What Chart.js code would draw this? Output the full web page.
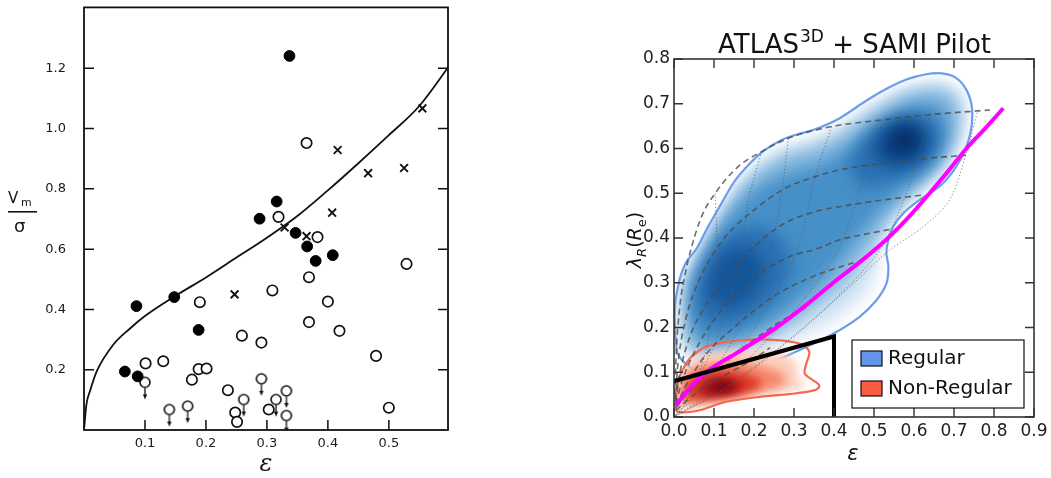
<!DOCTYPE html>
<html>
<head>
<meta charset="utf-8">
<script src="https://cdn.jsdelivr.net/npm/chart.js@4.4.0/dist/chart.umd.min.js"></script>
<style>
  body { margin: 0; background: #fff; width: 1051px; height: 478px; overflow: hidden; position: relative; }
  canvas { position: absolute; top: 0; }
  #rotChart { left: 0; }
  #lambdaChart { left: 600px; }
</style>
</head>
<body>
<canvas id="rotChart" width="460" height="478"></canvas>
<canvas id="lambdaChart" width="451" height="478"></canvas>
<script>
// ---------- left panel: V_m / sigma against ellipticity ----------
const solidPts = [[0.337,1.241],[0.086,0.411],[0.148,0.441],[0.188,0.332],[0.067,0.194],[0.088,0.178],
                  [0.288,0.701],[0.316,0.758],[0.347,0.654],[0.366,0.609],[0.380,0.561],[0.408,0.580]]
const crossPts = [[0.555,1.067],[0.416,0.929],[0.466,0.852],[0.525,0.869],[0.407,0.721],[0.329,0.672],
                  [0.365,0.643],[0.247,0.450]]
const openPts = [[0.365,0.952],[0.319,0.707],[0.383,0.640],[0.529,0.551],[0.369,0.507],[0.309,0.463],
                 [0.190,0.424],[0.400,0.426],[0.369,0.358],[0.419,0.329],[0.259,0.313],[0.291,0.290],
                 [0.479,0.246],[0.101,0.221],[0.130,0.228],[0.188,0.202],[0.201,0.204],[0.177,0.167],
                 [0.236,0.132],[0.248,0.058],[0.251,0.027],[0.303,0.068],[0.500,0.074]]
// upper limits (circle with arrow)
const limitPts = [[0.100,0.158],[0.140,0.068],[0.170,0.079],[0.291,0.170],[0.262,0.101],[0.315,0.101],
                  [0.332,0.130],[0.332,0.048]]
const curveEps = [0, 0.004, 0.01, 0.021, 0.048, 0.075, 0.1, 0.15, 0.2, 0.25, 0.3, 0.35, 0.4, 0.45, 0.5, 0.55, 0.598]
const curveV   = [0, 0.085, 0.13, 0.195, 0.283, 0.336, 0.378, 0.445, 0.506, 0.572, 0.638, 0.71, 0.795, 0.885, 0.978, 1.075, 1.205]
const leftXTicks = [0.1, 0.2, 0.3, 0.4, 0.5]
const leftYTicks = [0.2, 0.4, 0.6, 0.8, 1.0, 1.2]

// ---------- right panel: lambda_R against ellipticity ----------
const epsTicks = [0, 0.1, 0.2, 0.3, 0.4, 0.5, 0.6, 0.7, 0.8, 0.9]
const lamTicks = [0, 0.1, 0.2, 0.3, 0.4, 0.5, 0.6, 0.7, 0.8]

const blueEdge = [[0.006,0.157],[0.002,0.24],[0.012,0.30],[0.03,0.345],[0.057,0.377],[0.085,0.425],[0.119,0.478],
  [0.15,0.525],[0.186,0.563],[0.225,0.595],[0.269,0.619],[0.31,0.632],[0.353,0.643],[0.411,0.666],[0.469,0.700],
  [0.52,0.728],[0.581,0.754],[0.63,0.766],[0.67,0.768],[0.705,0.758],[0.731,0.731],[0.745,0.69],[0.741,0.634],
  [0.716,0.575],[0.67,0.52],[0.614,0.485],[0.573,0.455],[0.548,0.425],[0.535,0.392],[0.531,0.365],[0.536,0.336],
  [0.531,0.298],[0.506,0.261],[0.464,0.224],[0.398,0.186],[0.331,0.157],[0.264,0.130],[0.181,0.104],[0.114,0.093],
  [0.073,0.097],[0.039,0.112],[0.014,0.134]]
// density levels inside the regular contour, lightest first
const blueLevel1 = [[0.02,0.165],[0.016,0.24],[0.025,0.29],[0.045,0.335],[0.07,0.37],[0.1,0.42],[0.13,0.465],[0.16,0.51],
  [0.195,0.545],[0.235,0.575],[0.275,0.598],[0.315,0.612],[0.36,0.623],[0.415,0.646],[0.47,0.68],[0.525,0.708],
  [0.58,0.732],[0.63,0.745],[0.67,0.747],[0.7,0.737],[0.72,0.712],[0.728,0.675],[0.723,0.63],[0.7,0.58],[0.66,0.535],
  [0.605,0.5],[0.56,0.465],[0.53,0.43],[0.515,0.39],[0.51,0.34],[0.49,0.29],[0.45,0.25],[0.39,0.21],[0.32,0.18],
  [0.25,0.155],[0.17,0.13],[0.11,0.12],[0.07,0.125],[0.04,0.14]]
const blueLevel2 = [[0.03,0.19],[0.028,0.29],[0.055,0.35],[0.095,0.42],[0.145,0.49],[0.2,0.545],[0.27,0.585],[0.35,0.605],
  [0.42,0.635],[0.5,0.685],[0.58,0.725],[0.65,0.735],[0.705,0.715],[0.715,0.66],[0.695,0.6],[0.645,0.54],[0.575,0.48],
  [0.525,0.42],[0.48,0.36],[0.43,0.3],[0.36,0.25],[0.28,0.2],[0.2,0.165],[0.12,0.14],[0.07,0.14],[0.04,0.155]]
const blueLevel3 = [[0.04,0.21],[0.045,0.3],[0.085,0.375],[0.135,0.445],[0.2,0.505],[0.28,0.545],[0.36,0.565],[0.44,0.605],
  [0.52,0.655],[0.6,0.695],[0.665,0.695],[0.685,0.64],[0.655,0.57],[0.585,0.515],[0.51,0.455],[0.45,0.39],[0.39,0.325],
  [0.31,0.255],[0.21,0.195],[0.12,0.165],[0.065,0.17]]
const blueLevel4a = [[0.055,0.235],[0.065,0.31],[0.1,0.375],[0.15,0.415],[0.22,0.425],[0.28,0.385],[0.29,0.32],[0.245,0.26],
  [0.17,0.215],[0.1,0.205]]
const blueLevel4b = [[0.44,0.56],[0.48,0.63],[0.55,0.67],[0.62,0.675],[0.665,0.635],[0.635,0.57],[0.555,0.53],[0.48,0.515]]
const blueLevel5a = [[0.085,0.265],[0.095,0.33],[0.135,0.375],[0.19,0.375],[0.225,0.335],[0.205,0.28],[0.15,0.245]]
const blueLevel5b = [[0.5,0.59],[0.53,0.645],[0.59,0.662],[0.635,0.632],[0.615,0.578],[0.55,0.56]]
const blueLevel6 = [[0.535,0.6],[0.55,0.638],[0.59,0.648],[0.615,0.617],[0.588,0.59]]

const redEdge = [[0.004,0.022],[0.006,0.052],[0.014,0.09],[0.031,0.12],[0.048,0.138],[0.089,0.160],[0.173,0.172],
  [0.256,0.172],[0.314,0.164],[0.338,0.146],[0.331,0.120],[0.327,0.097],[0.348,0.082],[0.363,0.071],[0.352,0.060],
  [0.298,0.052],[0.214,0.045],[0.131,0.034],[0.064,0.015],[0.014,0.011]]
const redLevel1 = [[0.012,0.025],[0.015,0.07],[0.03,0.11],[0.07,0.14],[0.15,0.15],[0.23,0.148],[0.29,0.135],[0.31,0.11],
  [0.31,0.085],[0.33,0.07],[0.3,0.06],[0.22,0.05],[0.12,0.035],[0.05,0.022]]
const redLevel2 = [[0.018,0.032],[0.022,0.08],[0.055,0.112],[0.13,0.122],[0.205,0.117],[0.265,0.1],[0.275,0.072],[0.2,0.055],[0.1,0.038]]
const redLevel3 = [[0.035,0.042],[0.04,0.085],[0.1,0.102],[0.175,0.097],[0.22,0.075],[0.175,0.052],[0.1,0.042]]
const redLevel4 = [[0.07,0.05],[0.08,0.08],[0.13,0.086],[0.17,0.071],[0.14,0.053]]
const redLevel5 = [[0.098,0.058],[0.105,0.074],[0.137,0.076],[0.145,0.063]]

// model tracks: dashed = fixed inclination, dotted = fixed intrinsic flattening
const inclTracks = [
  [[0.002,0.05],[0.006,0.15],[0.015,0.25],[0.028,0.32],[0.044,0.38],[0.07,0.45],[0.103,0.50],[0.161,0.56],
   [0.219,0.593],[0.286,0.623],[0.394,0.649],[0.523,0.664],[0.631,0.675],[0.79,0.686]],
  [[0.003,0.04],[0.01,0.12],[0.03,0.22],[0.06,0.3],[0.119,0.392],[0.211,0.47],[0.278,0.511],[0.353,0.537],
   [0.414,0.552],[0.523,0.567],[0.631,0.578],[0.73,0.585]],
  [[0.004,0.035],[0.015,0.1],[0.04,0.18],[0.08,0.25],[0.15,0.33],[0.2,0.38],[0.269,0.429],[0.353,0.459],
   [0.414,0.47],[0.523,0.485],[0.623,0.496]],
  [[0.005,0.03],[0.02,0.08],[0.06,0.16],[0.12,0.24],[0.2,0.31],[0.28,0.355],[0.361,0.377],[0.414,0.396],
   [0.469,0.407],[0.545,0.42]],
  [[0.005,0.025],[0.03,0.07],[0.08,0.14],[0.15,0.2],[0.25,0.27],[0.35,0.315],[0.45,0.345]],
  [[0.005,0.02],[0.04,0.06],[0.1,0.11],[0.18,0.16],[0.26,0.21],[0.34,0.25]],
  [[0.005,0.015],[0.05,0.05],[0.12,0.09],[0.2,0.13],[0.24,0.155]]
]
const shapeTracks = [
  [[0.103,0.5],[0.107,0.38],[0.1,0.26],[0.08,0.15],[0.05,0.07],[0.02,0.02],[0,0]],
  [[0.219,0.593],[0.186,0.485],[0.169,0.38],[0.14,0.26],[0.1,0.16],[0.05,0.07],[0,0]],
  [[0.286,0.623],[0.269,0.5],[0.244,0.38],[0.2,0.27],[0.14,0.16],[0.07,0.07],[0,0]],
  [[0.394,0.649],[0.353,0.537],[0.311,0.38],[0.25,0.27],[0.17,0.16],[0.08,0.07],[0,0]],
  [[0.523,0.664],[0.481,0.552],[0.414,0.38],[0.33,0.27],[0.22,0.16],[0.1,0.06],[0,0]],
  [[0.639,0.675],[0.581,0.5],[0.514,0.373],[0.41,0.27],[0.27,0.16],[0.12,0.06],[0,0]],
  [[0.76,0.687],[0.731,0.59],[0.689,0.485],[0.623,0.425],[0.539,0.373],[0.45,0.3],[0.3,0.18],[0.14,0.07],[0,0]]
]
const edgeOnEps = [0.005, 0.03, 0.081, 0.17, 0.256, 0.33, 0.398, 0.47, 0.535, 0.59, 0.639, 0.686, 0.731, 0.778, 0.823]
const edgeOnLam = [0.025, 0.055, 0.1, 0.15, 0.2, 0.25, 0.3, 0.35, 0.4, 0.45, 0.5, 0.55, 0.6, 0.645, 0.69]
const slowEps = [0, 0.4, 0.4]
const slowLam = [0.08, 0.18, 0]

const xy = pts => pts.map(p => ({x: p[0], y: p[1]}))
const zip = (a, b) => a.map((v, i) => ({x: v, y: b[i]}))

// closed catmull-rom outline through pixel points
function smoothClosed(ctx, p) {
  const n = p.length
  ctx.beginPath()
  ctx.moveTo(p[0][0], p[0][1])
  for (let i = 0; i < n; i++) {
    const p0 = p[(i - 1 + n) % n], p1 = p[i], p2 = p[(i + 1) % n], p3 = p[(i + 2) % n]
    ctx.bezierCurveTo(p1[0] + (p2[0] - p0[0]) / 6, p1[1] + (p2[1] - p0[1]) / 6,
                      p2[0] - (p3[0] - p1[0]) / 6, p2[1] - (p3[1] - p1[1]) / 6, p2[0], p2[1])
  }
  ctx.closePath()
}

// axes frame with ticks pointing inwards
const frameTicks = {
  id: 'frameTicks',
  afterDraw(chart, args, o) {
    const {ctx, chartArea: a, scales: {x, y}} = chart
    ctx.save()
    ctx.strokeStyle = o.color
    ctx.lineWidth = o.width
    ctx.beginPath()
    x.ticks.forEach(t => {
      const p = x.getPixelForValue(t.value)
      ctx.moveTo(p, a.bottom); ctx.lineTo(p, a.bottom - o.len)
      if (o.top) { ctx.moveTo(p, a.top); ctx.lineTo(p, a.top + o.len) }
    })
    y.ticks.forEach(t => {
      const p = y.getPixelForValue(t.value)
      ctx.moveTo(a.left, p); ctx.lineTo(a.left + o.len, p)
      ctx.moveTo(a.right, p); ctx.lineTo(a.right - o.len, p)
    })
    ctx.stroke()
    ctx.lineWidth = o.frame
    ctx.strokeRect(a.left, a.top, a.width, a.height)
    ctx.restore()
  }
}

// keep the axis boxes at a fixed size, no extra label padding
const fixBox = (w, h) => s => {
  if (w) s.width = w
  if (h) s.height = h
  s.paddingTop = 0; s.paddingBottom = 0; s.paddingLeft = 0; s.paddingRight = 0
}

// circle with a downward arrow for the upper limits
function limitMarker() {
  const c = document.createElement('canvas')
  c.width = 14; c.height = 36
  const g = c.getContext('2d')
  g.strokeStyle = '#111'; g.fillStyle = '#fff'; g.lineWidth = 1.6
  g.beginPath(); g.arc(7, 18, 5, 0, Math.PI * 2); g.fill(); g.stroke()
  g.lineWidth = 1.3
  g.beginPath(); g.moveTo(7, 23.5); g.lineTo(7, 32); g.stroke()
  g.fillStyle = '#111'
  g.beginPath(); g.moveTo(7, 35); g.lineTo(4.8, 30); g.lineTo(9.2, 30); g.closePath(); g.fill()
  return c
}

const leftLabels = {
  id: 'leftLabels',
  afterDraw(chart) {
    const {ctx, chartArea: a} = chart
    ctx.save()
    ctx.fillStyle = '#151515'
    ctx.font = 'italic 24px "DejaVu Serif"'
    ctx.textAlign = 'center'
    ctx.textBaseline = 'alphabetic'
    ctx.fillText('ε', (a.left + a.right) / 2, 471)
    // V_m over sigma
    ctx.textAlign = 'left'
    ctx.font = '15px "DejaVu Sans"'
    ctx.fillText('V', 8, 203)
    ctx.font = '11px "DejaVu Sans"'
    ctx.fillText('m', 21, 206)
    ctx.fillRect(8, 211, 29, 1.6)
    ctx.font = '18px "DejaVu Sans"'
    ctx.fillText('σ', 14, 232)
    ctx.restore()
  }
}

new Chart(document.getElementById('rotChart'), {
  type: 'scatter',
  data: {
    datasets: [
      { data: xy(solidPts), pointStyle: 'circle', pointRadius: 5.4, backgroundColor: '#000', borderColor: '#000', borderWidth: 1 },
      { data: xy(crossPts), pointStyle: 'crossRot', pointRadius: 5.5, borderColor: '#111', borderWidth: 1.9 },
      { data: xy(openPts), pointStyle: 'circle', pointRadius: 5.2, backgroundColor: '#fff', borderColor: '#111', borderWidth: 1.7 },
      { data: xy(limitPts), pointStyle: limitMarker(), pointRadius: 5 },
      { data: zip(curveEps, curveV), showLine: true, pointRadius: 0, borderColor: '#111', borderWidth: 1.8,
        cubicInterpolationMode: 'monotone' }
    ]
  },
  options: {
    responsive: false,
    animation: false,
    layout: { padding: { top: 5, right: 12, left: 0, bottom: 0 } },
    plugins: { legend: { display: false }, tooltip: { enabled: false },
               frameTicks: { color: '#111', width: 1.5, len: 10, frame: 1.8, top: false } },
    scales: {
      x: { type: 'linear', min: 0, max: 0.597,
           afterBuildTicks: s => { s.ticks = leftXTicks.map(value => ({value})) },
           afterFit: fixBox(0, 48),
           grid: { display: false, drawTicks: false }, border: { display: false },
           ticks: { padding: 6, color: '#1a1a1a', font: { family: 'DejaVu Sans', size: 13 }, callback: v => v.toFixed(1) } },
      y: { type: 'linear', min: 0, max: 1.402,
           afterBuildTicks: s => { s.ticks = leftYTicks.map(value => ({value})) },
           afterFit: fixBox(84, 0),
           grid: { display: false, drawTicks: false }, border: { display: false },
           ticks: { padding: 18, color: '#1a1a1a', font: { family: 'DejaVu Sans', size: 13 }, callback: v => v.toFixed(1) } }
    }
  },
  plugins: [frameTicks, leftLabels]
})

// filled density contours for both classes
const densityPlugin = {
  id: 'density',
  beforeDatasetsDraw(chart) {
    const {ctx, chartArea: a, scales: {x, y}} = chart
    const px = pts => pts.map(p => [x.getPixelForValue(p[0]), y.getPixelForValue(p[1])])
    const blob = (edge, levels, colors, blur, line) => {
      ctx.save()
      smoothClosed(ctx, px(edge))
      ctx.clip()
      ctx.filter = 'blur(' + blur + 'px)'
      levels.forEach((lv, i) => {
        ctx.fillStyle = colors[i]
        smoothClosed(ctx, px(lv))
        ctx.fill()
      })
      ctx.restore()
      ctx.save()
      ctx.strokeStyle = line
      ctx.lineWidth = 2.2
      smoothClosed(ctx, px(edge))
      ctx.stroke()
      ctx.restore()
    }
    ctx.save()
    ctx.beginPath(); ctx.rect(a.left, a.top, a.width, a.height); ctx.clip()
    blob(blueEdge, [blueLevel1, blueLevel2, blueLevel3, blueLevel4a, blueLevel4b, blueLevel5a, blueLevel5b, blueLevel6],
         ['#d3e4f4', '#86b9df', '#4690c8', '#2a70b2', '#2a70b2', '#13569a', '#0d4c90', '#082f68'], 8, '#6c9ceb')
    blob(redEdge, [redLevel1, redLevel2, redLevel3, redLevel4, redLevel5],
         ['#fcd0bf', '#f7876b', '#dc3527', '#a30f18', '#68020d'], 5, '#f2694f')
    ctx.restore()
  }
}

const rightDecor = {
  id: 'rightDecor',
  afterDraw(chart) {
    const {ctx, chartArea: a} = chart
    ctx.save()
    ctx.fillStyle = '#111'
    // title with superscript
    const big = '26px "DejaVu Sans"', sup = '17px "DejaVu Sans"'
    ctx.font = big; const w1 = ctx.measureText('ATLAS').width, w3 = ctx.measureText(' + SAMI Pilot').width
    ctx.font = sup; const w2 = ctx.measureText('3D').width
    let tx = (a.left + a.right) / 2 - (w1 + w2 + w3) / 2
    ctx.textBaseline = 'alphabetic'
    ctx.font = big; ctx.fillText('ATLAS', tx, 53); tx += w1
    ctx.font = sup; ctx.fillText('3D', tx + 1, 42); tx += w2 + 1
    ctx.font = big; ctx.fillText(' + SAMI Pilot', tx, 53)
    // x title
    ctx.font = 'italic 21px "DejaVu Sans"'
    ctx.textAlign = 'center'
    ctx.fillText('ε', (a.left + a.right) / 2 - 1, 460)
    // y title, rotated
    ctx.translate(34, (a.top + a.bottom) / 2 + 2)
    ctx.rotate(-Math.PI / 2)
    ctx.textAlign = 'left'
    const parts = [['λ', 'italic 19px "DejaVu Sans"', 0], ['R', 'italic 13px "DejaVu Sans"', 5],
                   ['(', '19px "DejaVu Sans"', 0], ['R', 'italic 19px "DejaVu Sans"', 0],
                   ['e', '13px "DejaVu Sans"', 5], [')', '19px "DejaVu Sans"', 0]]
    let total = 0
    parts.forEach(p => { ctx.font = p[1]; total += ctx.measureText(p[0]).width })
    let lx = -total / 2
    parts.forEach(p => { ctx.font = p[1]; ctx.fillText(p[0], lx, 7 + p[2]); lx += ctx.measureText(p[0]).width })
    ctx.restore()

    // legend box
    ctx.save()
    const lx0 = a.right - 182, ly0 = a.bottom - 77
    ctx.fillStyle = '#fff'
    ctx.fillRect(lx0, ly0, 172, 68)
    ctx.strokeStyle = '#111'; ctx.lineWidth = 1.2
    ctx.strokeRect(lx0, ly0, 172, 68)
    const items = [['Regular', '#6495ed'], ['Non-Regular', '#fa5c42']]
    ctx.font = '20px "DejaVu Sans"'
    ctx.textBaseline = 'middle'
    items.forEach((it, i) => {
      const cy = ly0 + 18 + i * 30
      ctx.fillStyle = it[1]
      ctx.fillRect(lx0 + 9, cy - 7, 21, 15)
      ctx.strokeRect(lx0 + 9, cy - 7, 21, 15)
      ctx.fillStyle = '#111'
      ctx.fillText(it[0], lx0 + 36, cy + 1)
    })
    ctx.restore()
  }
}

const rightSets = []
rightSets.push({ data: zip(slowEps, slowLam), showLine: true, pointRadius: 0, borderColor: '#000', borderWidth: 4, order: 0 })
rightSets.push({ data: zip(edgeOnEps, edgeOnLam), showLine: true, pointRadius: 0, borderColor: '#ff00ff', borderWidth: 4,
                 cubicInterpolationMode: 'monotone', order: 1 })
inclTracks.forEach(t => rightSets.push({ data: xy(t), showLine: true, pointRadius: 0, borderColor: 'rgba(75,75,75,0.8)',
  borderWidth: 1.6, borderDash: [6, 4], cubicInterpolationMode: 'monotone', order: 3 }))
shapeTracks.forEach(t => rightSets.push({ data: xy(t), showLine: true, pointRadius: 0, borderColor: 'rgba(90,90,90,0.75)',
  borderWidth: 1, borderDash: [1.2, 2.2], tension: 0.3, order: 4 }))

new Chart(document.getElementById('lambdaChart'), {
  type: 'scatter',
  data: { datasets: rightSets },
  options: {
    responsive: false,
    animation: false,
    layout: { padding: { top: 59, right: 17, left: 0, bottom: 0 } },
    plugins: { legend: { display: false }, tooltip: { enabled: false },
               frameTicks: { color: '#333', width: 1.4, len: 9, frame: 1.6, top: true } },
    scales: {
      x: { type: 'linear', min: 0, max: 0.9,
           afterBuildTicks: s => { s.ticks = epsTicks.map(value => ({value})) },
           afterFit: fixBox(0, 61),
           grid: { display: false, drawTicks: false }, border: { display: false },
           ticks: { padding: 4, color: '#222', font: { family: 'DejaVu Sans', size: 17 }, callback: v => v.toFixed(1) } },
      y: { type: 'linear', min: 0, max: 0.8,
           afterBuildTicks: s => { s.ticks = lamTicks.map(value => ({value})) },
           afterFit: fixBox(74, 0),
           grid: { display: false, drawTicks: false }, border: { display: false },
           ticks: { padding: 4, color: '#222', font: { family: 'DejaVu Sans', size: 17 }, callback: v => v.toFixed(1) } }
    }
  },
  plugins: [densityPlugin, frameTicks, rightDecor]
})
</script>
</body>
</html>
